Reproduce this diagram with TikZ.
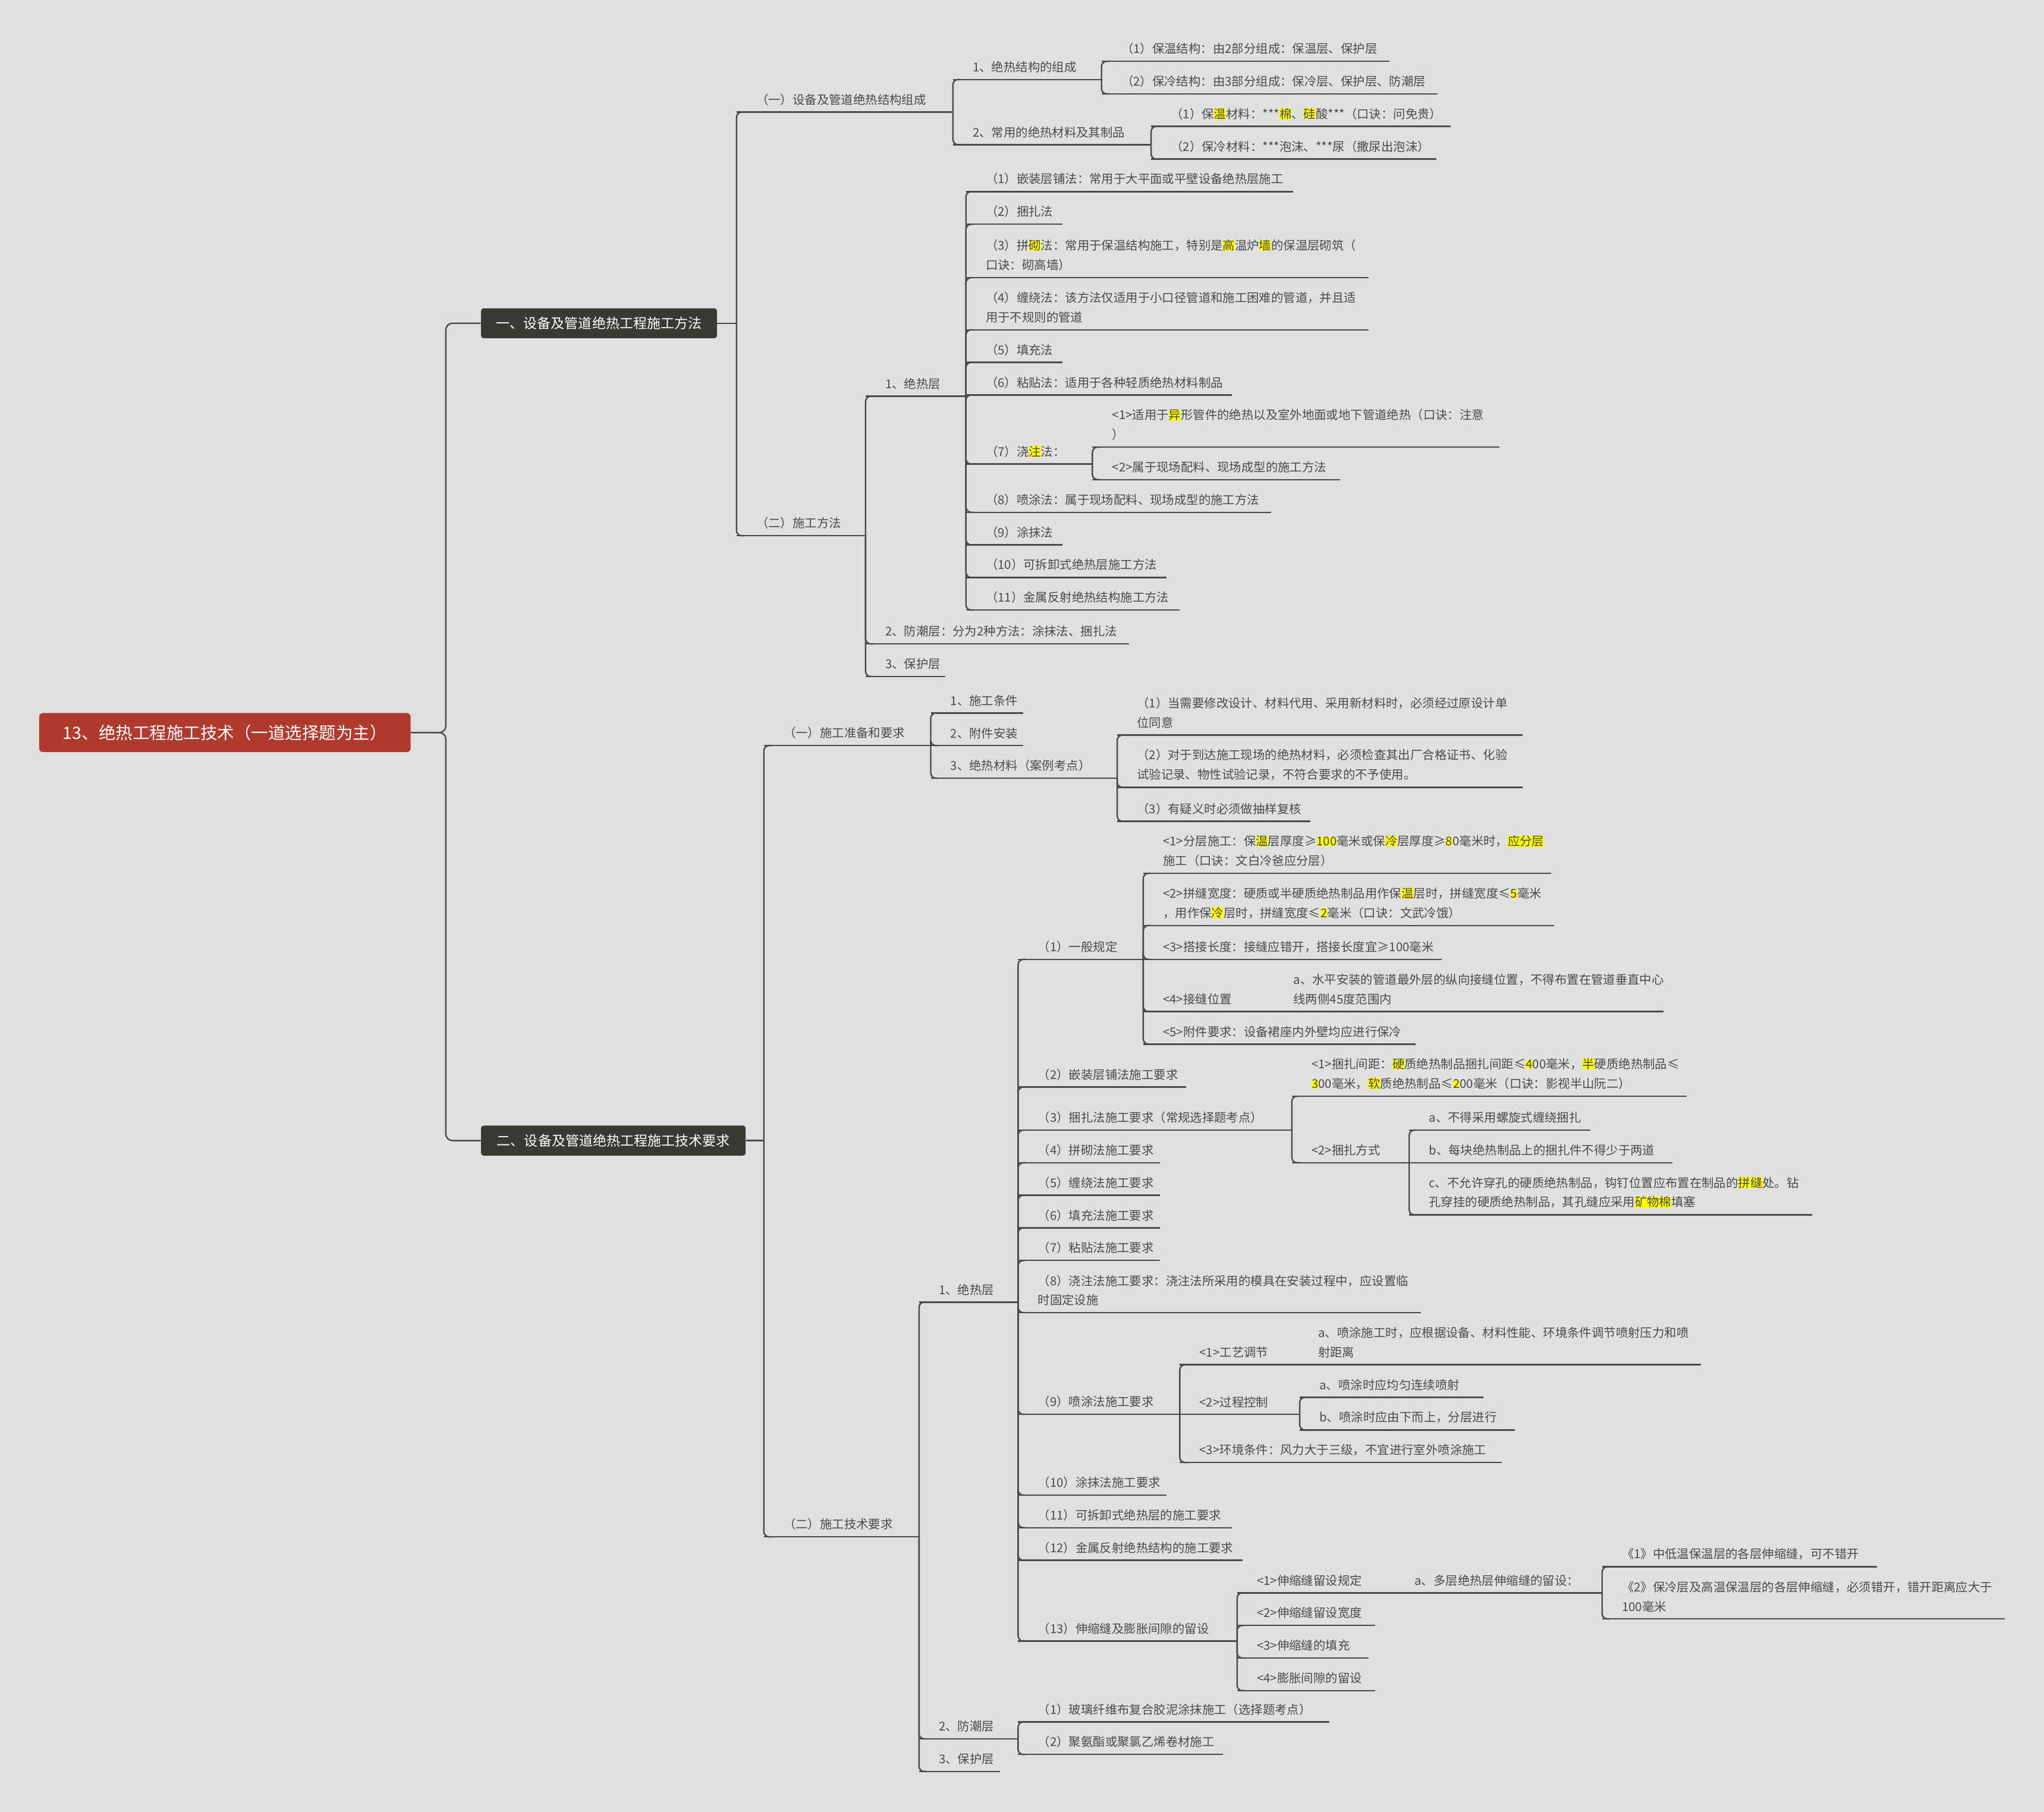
\documentclass[tikz,border=0pt]{standalone}
\usepackage{fontspec}
\setmainfont{Noto Sans CJK SC}
\definecolor{bg}{HTML}{E0E0E0}
\definecolor{ink}{HTML}{4A4A4A}
\definecolor{rootc}{HTML}{B03A2E}
\definecolor{boxc}{HTML}{3A3A35}
\definecolor{hly}{HTML}{FFFF00}
\newcommand\hl[1]{{\setlength\fboxsep{0pt}\colorbox{hly}{#1}}}
\tikzset{
  ln/.style={draw=ink,line width=1.1pt},
  txt/.style={anchor=south west,inner sep=0pt,align=left,text=ink,font=\fontsize{9.3}{15}\selectfont},
  box/.style={rounded corners=2pt,fill=boxc,text=white,inner xsep=9pt,inner ysep=5pt,font=\fontsize{10.5}{12}\selectfont},
}
\newcommand\nd[5]{\coordinate (#1-s) at (#2,-#3); \coordinate (#1-e) at (#4,-#3);
  \node[txt] (#1) at (#2+15,-#3+5) {#5}; \draw[ln] (#1-s) -- (#1-e);}
\newcommand\cn[2]{\draw[ln,rounded corners=4pt] (#1-e) |- ([xshift=6pt]#2-s);}
\begin{document}
\begin{tikzpicture}[x=1pt,y=1pt]
\fill[bg] (0,0) rectangle (1568,-1390);
\useasboundingbox (0,0) rectangle (1568,-1390);
% root and level 1
\node[rounded corners=3pt,fill=rootc,text=white,minimum width=285pt,minimum height=30pt,font=\fontsize{13}{15}\selectfont] (root) at (172.5,-562) {13、绝热工程施工技术（一道选择题为主）};
\node[box,minimum width=181pt,minimum height=23pt] (A) at (459.5,-248) {一、设备及管道绝热工程施工方法};
\node[box,minimum width=203pt,minimum height=23pt] (B) at (470.5,-875) {二、设备及管道绝热工程施工技术要求};
\draw[ln,rounded corners=5pt] (root.east) -- (342,-562) |- (A.west);
\draw[ln,rounded corners=5pt] (root.east) -- (342,-562) |- (B.west);
\coordinate (A-e) at (565,-248); \draw[ln] (A.east) -- (A-e);
\coordinate (B-e) at (586,-875); \draw[ln] (B.east) -- (B-e);
% ===== Branch A
\nd{a1}{565}{86}{731}{（一）设备及管道绝热结构组成}
\nd{a2}{565}{411}{664}{（二）施工方法}
\cn{A}{a1}\cn{A}{a2}
\nd{a11}{731}{61}{845}{1、绝热结构的组成}
\nd{a12}{731}{111}{883}{2、常用的绝热材料及其制品}
\cn{a1}{a11}\cn{a1}{a12}
\nd{a111}{845}{47}{1066}{（1）保温结构：由2部分组成：保温层、保护层}
\nd{a112}{845}{72}{1103}{（2）保冷结构：由3部分组成：保冷层、保护层、防潮层}
\cn{a11}{a111}\cn{a11}{a112}
\nd{a121}{883}{97}{1113}{（1）保\hl{温}材料：***\hl{棉}、\hl{硅}酸***（口诀：问免贵）}
\nd{a122}{883}{122}{1102}{（2）保冷材料：***泡沫、***尿（撒尿出泡沫）}
\cn{a12}{a121}\cn{a12}{a122}
\nd{a21}{664}{304}{741}{1、绝热层}
\nd{a22}{664}{494}{866}{2、防潮层：分为2种方法：涂抹法、捆扎法}
\nd{a23}{664}{519}{725}{3、保护层}
\cn{a2}{a21}\cn{a2}{a22}\cn{a2}{a23}
\nd{b1}{741}{147}{992}{（1）嵌装层铺法：常用于大平面或平壁设备绝热层施工}
\nd{b2}{741}{172}{815}{（2）捆扎法}
\nd{b3}{741}{213}{1050}{（3）拼\hl{砌}法：常用于保温结构施工，特别是\hl{高}温炉\hl{墙}的保温层砌筑（\\口诀：砌高墙）}
\nd{b4}{741}{253}{1050}{（4）缠绕法：该方法仅适用于小口径管道和施工困难的管道，并且适\\用于不规则的管道}
\nd{b5}{741}{278}{815}{（5）填充法}
\nd{b6}{741}{303}{945}{（6）粘贴法：适用于各种轻质绝热材料制品}
\nd{b7}{741}{356}{838}{（7）浇\hl{注}法：}
\nd{b8}{741}{393}{975}{（8）喷涂法：属于现场配料、现场成型的施工方法}
\nd{b9}{741}{418}{815}{（9）涂抹法}
\nd{b10}{741}{443}{895}{（10）可拆卸式绝热层施工方法}
\nd{b11}{741}{468}{905}{（11）金属反射绝热结构施工方法}
\foreach \i in {1,...,11}{\cn{a21}{b\i}}
\nd{b71}{838}{343}{1150}{<1>适用于\hl{异}形管件的绝热以及室外地面或地下管道绝热（口诀：注意\\）}
\nd{b72}{838}{368}{1028}{<2>属于现场配料、现场成型的施工方法}
\cn{b7}{b71}\cn{b7}{b72}
% ===== Branch B
\nd{c1}{586}{572}{714}{（一）施工准备和要求}
\nd{c2}{586}{1179}{705}{（二）施工技术要求}
\cn{B}{c1}\cn{B}{c2}
\nd{c11}{714}{547}{785}{1、施工条件}
\nd{c12}{714}{572}{785}{2、附件安装}
\nd{c13}{714}{597}{857}{3、绝热材料（案例考点）}
\cn{c1}{c11}\cn{c1}{c12}\cn{c1}{c13}
\nd{c131}{857}{564}{1168}{（1）当需要修改设计、材料代用、采用新材料时，必须经过原设计单\\位同意}
\nd{c132}{857}{604}{1168}{（2）对于到达施工现场的绝热材料，必须检查其出厂合格证书、化验\\试验记录、物性试验记录，不符合要求的不予使用。}
\nd{c133}{857}{630}{1005}{（3）有疑义时必须做抽样复核}
\cn{c13}{c131}\cn{c13}{c132}\cn{c13}{c133}
\nd{c21}{705}{999}{781}{1、绝热层}
\nd{c22}{705}{1334}{781}{2、防潮层}
\nd{c23}{705}{1359}{767}{3、保护层}
\cn{c2}{c21}\cn{c2}{c22}\cn{c2}{c23}
\nd{c221}{781}{1321}{1020}{（1）玻璃纤维布复合胶泥涂抹施工（选择题考点）}
\nd{c222}{781}{1346}{938}{（2）聚氨酯或聚氯乙烯卷材施工}
\cn{c22}{c221}\cn{c22}{c222}
\nd{d1}{781}{736}{877}{（1）一般规定}
\nd{d2}{781}{834}{910}{（2）嵌装层铺法施工要求}
\nd{d3}{781}{867}{991}{（3）捆扎法施工要求（常规选择题考点）}
\nd{d4}{781}{892}{890}{（4）拼砌法施工要求}
\nd{d5}{781}{917}{890}{（5）缠绕法施工要求}
\nd{d6}{781}{942}{890}{（6）填充法施工要求}
\nd{d7}{781}{967}{890}{（7）粘贴法施工要求}
\nd{d8}{781}{1007}{1090}{（8）浇注法施工要求：浇注法所采用的模具在安装过程中，应设置临\\时固定设施}
\nd{d9}{781}{1085}{905}{（9）喷涂法施工要求}
\nd{d10}{781}{1147}{895}{（10）涂抹法施工要求}
\nd{d11}{781}{1172}{945}{（11）可拆卸式绝热层的施工要求}
\nd{d12}{781}{1197}{953}{（12）金属反射绝热结构的施工要求}
\nd{d13}{781}{1259}{949}{（13）伸缩缝及膨胀间隙的留设}
\foreach \i in {1,...,13}{\cn{c21}{d\i}}
\nd{e1}{877}{670}{1190}{<1>分层施工：保\hl{温}层厚度≥\hl{100}毫米或保\hl{冷}层厚度≥\hl{8}0毫米时，\hl{应分层}\\施工（口诀：文白冷爸应分层）}
\nd{e2}{877}{710}{1192}{<2>拼缝宽度：硬质或半硬质绝热制品用作保\hl{温}层时，拼缝宽度≤\hl{5}毫米\\，用作保\hl{冷}层时，拼缝宽度≤\hl{2}毫米（口诀：文武冷饿）}
\nd{e3}{877}{736}{1106}{<3>搭接长度：接缝应错开，搭接长度宜≥100毫米}
\nd{e4}{877}{776}{977}{<4>接缝位置}
\nd{e5}{877}{801}{1086}{<5>附件要求：设备裙座内外壁均应进行保冷}
\foreach \i in {1,...,5}{\cn{d1}{e\i}}
\nd{e41}{977}{776}{1276}{a、水平安装的管道最外层的纵向接缝位置，不得布置在管道垂直中心\\线两侧45度范围内}
\draw[ln] (e4-e) -- (e41-s);
\nd{f1}{991}{841}{1294}{<1>捆扎间距：\hl{硬}质绝热制品捆扎间距≤\hl{4}00毫米，\hl{半}硬质绝热制品≤\\\hl{3}00毫米，\hl{软}质绝热制品≤\hl{2}00毫米（口诀：影视半山阮二）}
\nd{f2}{991}{892}{1081}{<2>捆扎方式}
\cn{d3}{f1}\cn{d3}{f2}
\nd{f21}{1081}{867}{1220}{a、不得采用螺旋式缠绕捆扎}
\nd{f22}{1081}{892}{1283}{b、每块绝热制品上的捆扎件不得少于两道}
\nd{f23}{1081}{932}{1390}{c、不允许穿孔的硬质绝热制品，钩钉位置应布置在制品的\hl{拼缝}处。钻\\孔穿挂的硬质绝热制品，其孔缝应采用\hl{矿物棉}填塞}
\cn{f2}{f21}\draw[ln] (f2-e) -- (f22-s);\cn{f2}{f23}
\nd{g1}{905}{1047}{996}{<1>工艺调节}
\nd{g2}{905}{1085}{997}{<2>过程控制}
\nd{g3}{905}{1122}{1152}{<3>环境条件：风力大于三级，不宜进行室外喷涂施工}
\cn{d9}{g1}\draw[ln] (d9-e) -- (g2-s);\cn{d9}{g3}
\nd{g11}{996}{1047}{1305}{a、喷涂施工时，应根据设备、材料性能、环境条件调节喷射压力和喷\\射距离}
\draw[ln] (g1-e) -- (g11-s);
\nd{g21}{997}{1072}{1138}{a、喷涂时应均匀连续喷射}
\nd{g22}{997}{1097}{1162}{b、喷涂时应由下而上，分层进行}
\cn{g2}{g21}\cn{g2}{g22}
\nd{h1}{949}{1222}{1070}{<1>伸缩缝留设规定}
\nd{h2}{949}{1247}{1055}{<2>伸缩缝留设宽度}
\nd{h3}{949}{1272}{1050}{<3>伸缩缝的填充}
\nd{h4}{949}{1297}{1055}{<4>膨胀间隙的留设}
\foreach \i in {1,...,4}{\cn{d13}{h\i}}
\nd{h11}{1070}{1222}{1229}{a、多层绝热层伸缩缝的留设：}
\draw[ln] (h1-e) -- (h11-s);
\nd{h111}{1229}{1202}{1440}{《1》中低温保温层的各层伸缩缝，可不错开}
\nd{h112}{1229}{1242}{1538}{《2》保冷层及高温保温层的各层伸缩缝，必须错开，错开距离应大于\\100毫米}
\cn{h11}{h111}\cn{h11}{h112}
\end{tikzpicture}
\end{document}
